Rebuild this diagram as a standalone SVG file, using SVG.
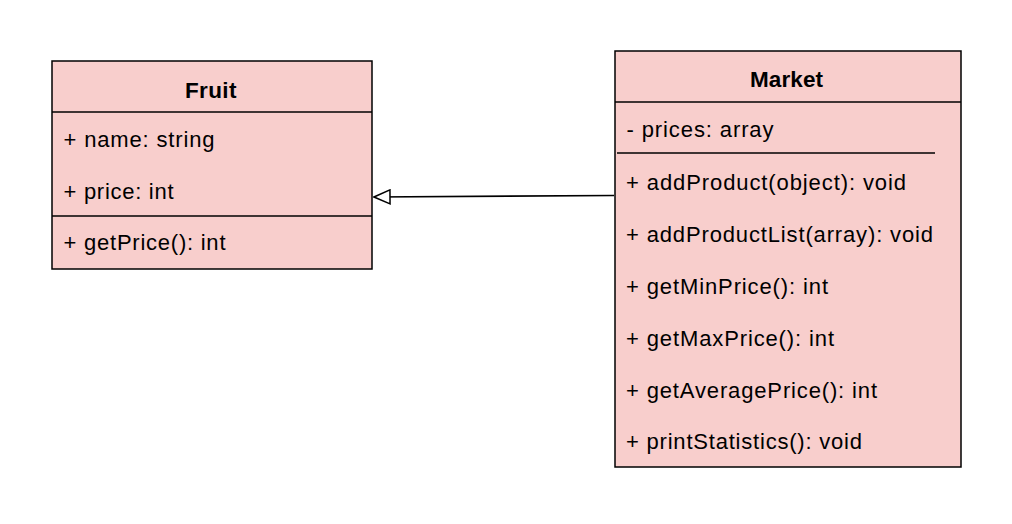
<svg xmlns="http://www.w3.org/2000/svg" width="1012" height="524" viewBox="0 0 1012 524">
<style>
.box{fill:#f8cecc;stroke:#000;stroke-width:1.5}
.sep{stroke:#000;stroke-width:1.5;fill:none}
.t{font-family:"Liberation Sans",Arial,sans-serif;font-size:22px;fill:#000}
.h{font-family:"Liberation Sans",Arial,sans-serif;font-size:22.5px;font-weight:bold;fill:#000}
</style>
<defs>
<marker id="tri" markerWidth="18" markerHeight="16" refX="17" refY="8" orient="auto" markerUnits="userSpaceOnUse">
<path d="M1,1 L17,8 L1,15 Z" fill="#fff" stroke="#000" stroke-width="1.5"/>
</marker>
</defs>
<rect width="1012" height="524" fill="#fff"/>
<g id="connectors">
<line x1="614" y1="195.5" x2="374" y2="197" stroke="#000" stroke-width="1.6" marker-end="url(#tri)"/>
</g>
<g id="fruit">
<rect class="box" x="52" y="61" width="320" height="208"/>
<line class="sep" x1="52" y1="112" x2="372" y2="112"/>
<line class="sep" x1="52" y1="216" x2="372" y2="216"/>
<text class="h" x="185" y="97.5" textLength="51.5" lengthAdjust="spacing">Fruit</text>
<text class="t" x="63.5" y="147" textLength="151" lengthAdjust="spacing">+ name: string</text>
<text class="t" x="63.5" y="198.5" textLength="110" lengthAdjust="spacing">+ price: int</text>
<text class="t" x="63.5" y="249.5" textLength="162" lengthAdjust="spacing">+ getPrice(): int</text>
</g>
<g id="market">
<rect class="box" x="615" y="51" width="346" height="416"/>
<line class="sep" x1="615" y1="102" x2="961" y2="102"/>
<line class="sep" x1="617" y1="153" x2="935" y2="153"/>
<text class="h" x="750" y="87" textLength="73" lengthAdjust="spacing">Market</text>
<text class="t" x="626.5" y="137" textLength="147" lengthAdjust="spacing">- prices: array</text>
<text class="t" x="626" y="189.5" textLength="280" lengthAdjust="spacing">+ addProduct(object): void</text>
<text class="t" x="626" y="241.5" textLength="307" lengthAdjust="spacing">+ addProductList(array): void</text>
<text class="t" x="626" y="293.5" textLength="202" lengthAdjust="spacing">+ getMinPrice(): int</text>
<text class="t" x="626" y="345.5" textLength="208" lengthAdjust="spacing">+ getMaxPrice(): int</text>
<text class="t" x="626" y="397.5" textLength="251" lengthAdjust="spacing">+ getAveragePrice(): int</text>
<text class="t" x="626" y="448.5" textLength="236" lengthAdjust="spacing">+ printStatistics(): void</text>
</g>
</svg>
